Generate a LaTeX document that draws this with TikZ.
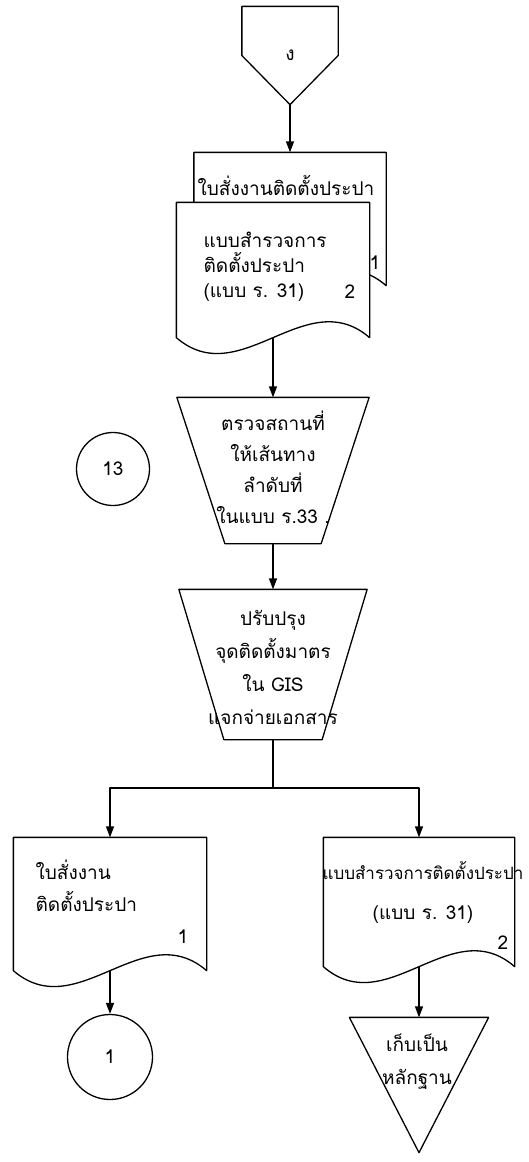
\documentclass[tikz,border=0pt]{standalone}
\usepackage{fontspec}
\usepackage{tikz}
\usetikzlibrary{arrows.meta,calc}
\newfontfamily\thaifont[Script=Thai]{Loma}
\newcommand{\tx}[1]{\thaifont\fontsize{19}{#1}\selectfont}
% paper document: flat top, wavy bottom edge through the south anchor
\newcommand{\docshape}[1]{%
  \filldraw[fill=white] (#1.south west) -- (#1.north west) -- (#1.north east) -- (#1.south east)
    .. controls ($(#1.south east)!0.33!(#1.south west)+(0pt,55pt)$)
    and ($(#1.south east)!0.67!(#1.south west)+(0pt,-55pt)$) .. (#1.south west) -- cycle;}
% manual operation: wide top, narrow bottom
\newcommand{\manualop}[2]{%
  \draw (#1.north west) -- (#1.north east) -- ([xshift=-#2]#1.south east)
    -- ([xshift=#2]#1.south west) -- cycle;}

\begin{document}
\begin{tikzpicture}[
    x=1pt, y=-1pt,
    line width=1.3pt,
    line join=round,
    every node/.style={inner sep=0pt, font=\tx{25}},
    area/.style 2 args={minimum width=#1, minimum height=#2},
    connector/.style={draw, circle, minimum size=#1},
    flow/.style={-{Triangle[length=11pt,width=8pt]}}
  ]
  \useasboundingbox (0,0) rectangle (529,1162);

  \node (con) [area={95}{97}, font=\tx{20}] at (290,55.5) {ง};
  \draw (con.north west) -- (con.north east) -- (con.east) -- (con.south)
    -- (con.west) -- cycle;

  \node (d0) [area={191}{132}] at (290,219) {};
  \node (d1) [area={192}{134}] at (273,270) {};
  \docshape{d0}
  \docshape{d1}
  \node (d0txt) [anchor=west] at (197,185) {ใบสั่งงานติดตั้งประปา};
  \node (d0no) at (375,263) {1};
  \node (d1txt) [anchor=west, align=left] at (203,267)
    {แบบสำรวจการ\\ติดตั้งประปา\\(แบบ ร. 31)};
  \node (d1no) at (350,292) {2};

  \node (t1) [area={191}{145}] at (273,470.5) {};
  \manualop{t1}{48pt}
  \node (t1txt) [align=center, font=\tx{31}] at (273,467)
    {ตรวจสถานที่\\ให้เส้นทาง\\ลำดับที่\\ในแบบ ร.33 .};

  \node (c13) [connector=73] at (113,469) {13};

  \node (t2) [area={187}{149}] at (273,664.5) {};
  \manualop{t2}{45pt}
  \node (t2txt) [align=center, font=\tx{33}] at (273,667)
    {ปรับปรุง\\จุดติดตั้งมาตร\\ใน GIS\\แจกจ่ายเอกสาร};

  \coordinate (br) at (273,788);

  \node (d2) [area={192}{132}] at (110,904) {};
  \docshape{d2}
  \node (d2txt) [anchor=west, align=left, font=\tx{32}] at (35,886)
    {ใบสั่งงาน\\ติดตั้งประปา};
  \node (d2no) at (183,937) {1};

  \node (d3) [area={190}{128}] at (419,902) {};
  \docshape{d3}
  \node (d3txt) [align=center, font=\tx{40}] at (423,892)
    {{\fontsize{17}{40}\selectfont แบบสำรวจการติดตั้งประปา}\\(แบบ ร. 31)};
  \node (d3no) at (503,943) {2};

  \node (s1) [area={138}{134}] at (419,1085) {};
  \draw (s1.north west) -- (s1.north east) -- (s1.south) -- cycle;
  \node (s1txt) [align=center, font=\tx{33}] at (417,1061.5) {เก็บเป็น\\หลักฐาน};

  \node (c1) [connector=85] at (110,1057) {1};

  \draw[flow] (con.south) -- (d0.north);
  \draw[flow] (d1.south) -- (t1.north);
  \draw[flow] (t1.south) -- (t2.north);
  \draw (t2.south) -- (br);
  \draw[flow] (br) -| (d2.north);
  \draw[flow] (br) -| (d3.north);
  \draw[flow] (d2.south) -- (c1.north);
  \draw[flow] (d3.south) -- (s1.north);
\end{tikzpicture}
\end{document}
